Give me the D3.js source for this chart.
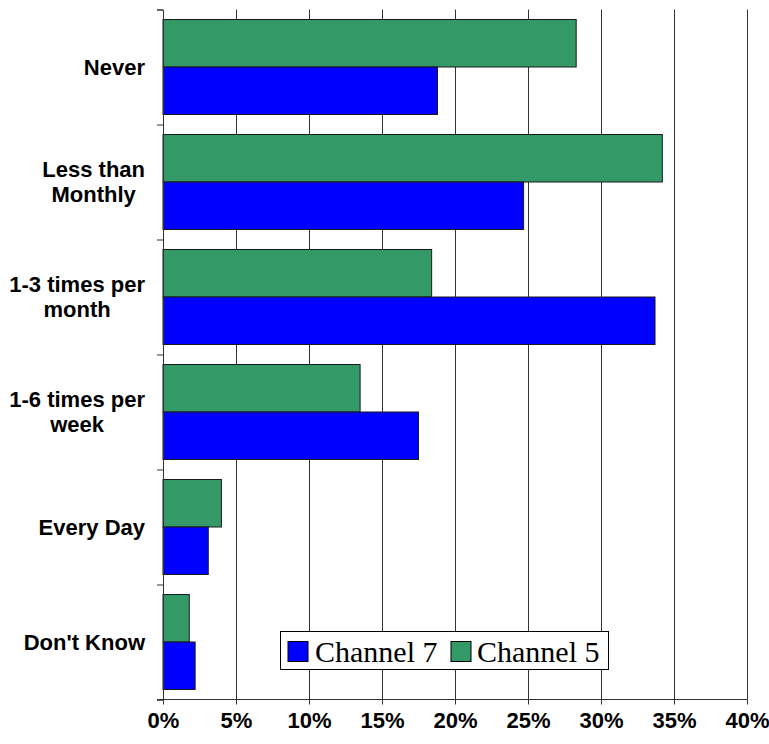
<!DOCTYPE html>
<html>
<head>
<meta charset="utf-8">
<script src="https://cdn.jsdelivr.net/npm/d3@7"></script>
<style>
  body { margin: 0; background: #fff; }
  #plot { width: 769px; height: 744px; }
  .axis path, .axis line { stroke: #333; }
  .grid line { stroke: #333; }
  .grid path { display: none; }
</style>
</head>
<body>
<div id="plot"></div>
<script>
// Chart data
var categories = ["Never", "Less than Monthly", "1-3 times per month", "1-6 times per week", "Every Day", "Don't Know"];
var categoryLines = [["Never"], ["Less than", "Monthly"], ["1-3 times per", "month"], ["1-6 times per", "week"], ["Every Day"], ["Don't Know"]];
var seriesNames = ["Channel 5", "Channel 7"];
var channel5 = [28.3, 34.2, 18.4, 13.5, 4.0, 1.8];
var channel7 = [18.8, 24.7, 33.7, 17.5, 3.1, 2.2];
var xTicks = [0, 5, 10, 15, 20, 25, 30, 35, 40];
var colours = { "Channel 7": "#0000ff", "Channel 5": "#339966" };

var w = 769, h = 744;
var plotLeft = 163, plotRight = 747, plotTop = 9.5, plotBottom = 699.5;

var svg1 = d3.select("#plot").append("svg")
    .attr("width", w)
    .attr("height", h);

// Scales
var xScale = d3.scaleLinear().domain([0, 40]).range([plotLeft, plotRight]);
var yScale = d3.scaleBand().domain(categories).range([plotTop, plotBottom])
    .paddingInner(0.174).paddingOuter(0.087);
var ySub = d3.scaleBand().domain(seriesNames).range([0, yScale.bandwidth()]);
var yIdx = d3.scaleLinear().domain([0, categories.length]).range([plotTop, plotBottom]);

// Gridlines
svg1.append("g")
    .attr("class", "grid")
    .attr("transform", "translate(0," + plotTop + ")")
    .call(d3.axisTop(xScale).tickValues(xTicks.slice(1)).tickSize(-(plotBottom - plotTop)).tickFormat(""));

// Bars
var rows = categories.map(function(c, i) {
  return { cat: c, "Channel 5": channel5[i], "Channel 7": channel7[i] };
});

var groups = svg1.selectAll(".cat")
    .data(rows)
    .enter().append("g")
    .attr("class", "cat")
    .attr("transform", function(d) { return "translate(0," + yScale(d.cat) + ")"; });

groups.selectAll("rect")
    .data(function(d) { return seriesNames.map(function(s) { return { s: s, v: d[s] }; }); })
    .enter().append("rect")
    .attr("x", xScale(0))
    .attr("y", function(d) { return ySub(d.s); })
    .attr("width", function(d) { return xScale(d.v) - xScale(0); })
    .attr("height", ySub.bandwidth())
    .attr("fill", function(d) { return colours[d.s]; })
    .attr("stroke", "#1a1a1a")
    .attr("stroke-width", 1);

// Y axis (ticks at category boundaries)
svg1.append("g")
    .attr("class", "axis")
    .attr("transform", "translate(" + plotLeft + ",0)")
    .call(d3.axisLeft(yIdx).ticks(categories.length).tickSize(6).tickSizeOuter(6).tickFormat(""));

// X axis
var xAxis = svg1.append("g")
    .attr("class", "axis")
    .attr("transform", "translate(0," + plotBottom + ")")
    .call(d3.axisBottom(xScale).tickValues(xTicks).tickSize(5).tickSizeOuter(0).tickPadding(8)
      .tickFormat(function(d) { return d + "%"; }));
xAxis.select(".domain").attr("d", "M" + (plotLeft - 6) + ",0H" + plotRight);
xAxis.selectAll("text")
    .attr("font-family", "'Liberation Sans', Arial, sans-serif")
    .attr("font-size", 22)
    .attr("font-weight", "bold")
    .attr("fill", "#000");

// Category labels
var lineH = 25;
var labelRight = 145;
categoryLines.forEach(function(lines, i) {
  var cy = yScale(categories[i]) + yScale.bandwidth() / 2;
  var t = svg1.append("text")
      .attr("font-family", "'Liberation Sans', Arial, sans-serif")
      .attr("font-size", 22)
      .attr("font-weight", "bold")
      .attr("fill", "#000")
      .attr("text-anchor", "middle");
  lines.forEach(function(l, j) {
    t.append("tspan").text(l)
      .attr("y", cy + (j - (lines.length - 1) / 2) * lineH)
      .attr("dy", "0.36em");
  });
  var maxW = d3.max(t.selectAll("tspan").nodes(), function(n) { return n.getComputedTextLength(); });
  t.selectAll("tspan").attr("x", labelRight - maxW / 2);
});

// Legend
var legend = svg1.append("g").attr("transform", "translate(280.5,631.5)");
legend.append("rect")
    .attr("width", 328).attr("height", 38)
    .attr("fill", "#fff").attr("stroke", "#000");
var legendItems = [
  { name: "Channel 7", x: 7.5, tx: 34.5 },
  { name: "Channel 5", x: 170.5, tx: 196.5 }
];
legendItems.forEach(function(it) {
  legend.append("rect")
      .attr("x", it.x).attr("y", 10)
      .attr("width", 20).attr("height", 20)
      .attr("fill", colours[it.name]).attr("stroke", "#000");
  legend.append("text")
      .attr("x", it.tx).attr("y", 30)
      .attr("font-family", "'Liberation Serif', 'Times New Roman', serif")
      .attr("font-size", 30)
      .attr("fill", "#000")
      .text(it.name);
});
</script>
</body>
</html>
